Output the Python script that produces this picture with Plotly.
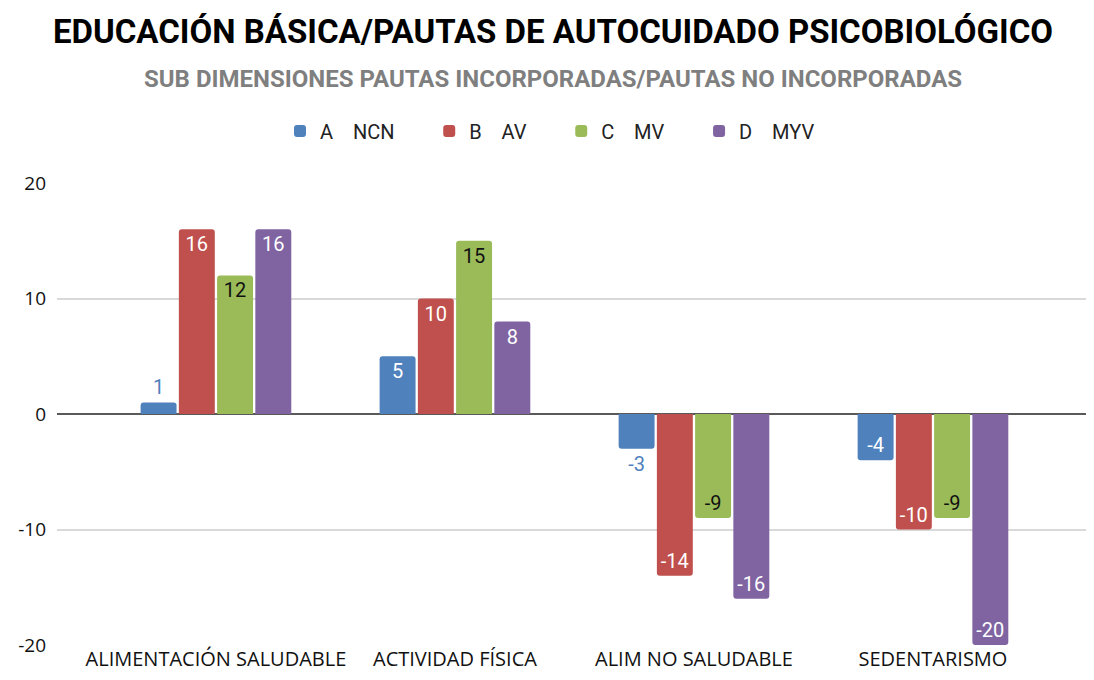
import plotly.graph_objects as go

categories = ["ALIMENTACIÓN SALUDABLE", "ACTIVIDAD FÍSICA", "ALIM NO SALUDABLE", "SEDENTARISMO"]
series_names = ["A\u00a0\u00a0\u00a0\u00a0NCN", "B\u00a0\u00a0\u00a0\u00a0AV", "C\u00a0\u00a0\u00a0\u00a0MV", "D\u00a0\u00a0\u00a0\u00a0MYV"]
a_ncn = [1, 5, -3, -4]
b_av = [16, 10, -14, -10]
c_mv = [12, 15, -9, -9]
d_myv = [16, 8, -16, -20]
y_ticks = [-20, -10, 0, 10, 20]

colors = ["#4f81bd", "#c0504d", "#9bbb59", "#8064a2"]
label_colors = ["#ffffff", "#ffffff", "#111111", "#ffffff"]
all_series = [a_ncn, b_av, c_mv, d_myv]

OFF = 8  # page body margin
W, H = 1094 - OFF, 680 - OFF
L, T = 57 - OFF, 183 - OFF
PW, PH = 1033, 462
R = W - L - PW
B = H - T - PH

PAD = "\u00a0" * 6

fig = go.Figure()
for name, vals, col, lc in zip(series_names, all_series, colors, label_colors):
    positions = []
    tcolors = []
    for v in vals:
        if abs(v) < 4:
            positions.append("outside")
            tcolors.append(col)
        else:
            positions.append("inside")
            tcolors.append(lc)
    fig.add_trace(go.Bar(
        x=categories, y=vals, name=name + PAD,
        marker=dict(color=col, cornerradius=3, line=dict(width=0)),
        text=[str(v) for v in vals],
        textposition=positions,
        insidetextanchor="end",
        textfont=dict(family="Roboto", size=20, color=tcolors),
        outsidetextfont=dict(family="Roboto", size=20, color=tcolors),
        insidetextfont=dict(family="Roboto", size=20, color=tcolors),
        constraintext="none",
        cliponaxis=False,
    ))

fig.update_layout(
    width=W, height=H,
    paper_bgcolor="white", plot_bgcolor="white",
    barmode="group", bargap=0.36, bargroupgap=0.06,
    margin=dict(l=L, r=R, t=T, b=B),
    title=dict(
        text="<b>EDUCACIÓN BÁSICA/PAUTAS DE AUTOCUIDADO PSICOBIOLÓGICO</b>",
        font=dict(family="Roboto, Arial", size=33, color="#000000"),
        x=(553 - OFF - L) / PW, xanchor="center", xref="paper",
        y=1 - (31 - OFF) / H, yanchor="middle", yref="container",
    ),
    annotations=[dict(
        text="<b>SUB DIMENSIONES PAUTAS INCORPORADAS/PAUTAS NO INCORPORADAS</b>",
        xref="paper", yref="paper", x=(553 - OFF - L) / PW, y=(H - (79 - OFF) - B) / PH,
        xanchor="center", yanchor="middle", showarrow=False,
        font=dict(family="Roboto, Arial", size=24, color="#7f7f7f"),
    )],
    legend=dict(
        orientation="h", x=(280 - OFF - L) / PW, xanchor="left", yref="container",
        y=1 - (131 - OFF) / H, yanchor="middle",
        font=dict(family="Roboto, Arial", size=20, color="#222222"),
        itemwidth=30, traceorder="normal",
    ),
    showlegend=True,
)
fig.update_xaxes(
    type="category", range=[-0.665, 3.657], showgrid=False, ticks="", showline=False,
    tickfont=dict(family="Open Sans, Arial", size=20, color="#111111"),
)
fig.update_yaxes(
    range=[-20, 20], tickvals=y_ticks, ticktext=[str(v) for v in y_ticks],
    showgrid=True, gridcolor="#d9d9d9", gridwidth=2,
    zeroline=True, zerolinecolor="#595959", zerolinewidth=2,
    tickfont=dict(family="Open Sans, Arial", size=19, color="#111111"), ticklabelstandoff=10,
)

fig.write_html("out.html")
